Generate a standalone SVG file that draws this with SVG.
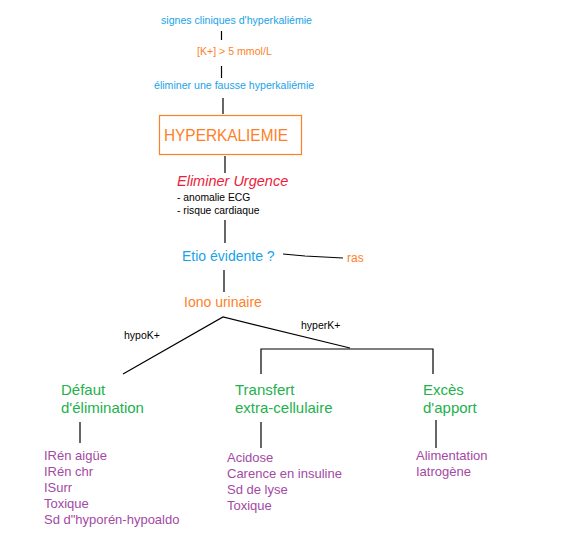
<svg xmlns="http://www.w3.org/2000/svg" width="583" height="540" viewBox="0 0 583 540">
<style>
text{font-family:"Liberation Sans",Arial,sans-serif}
.blue{fill:#1AA3E8}
.orange{fill:#FF7F27}
.green{fill:#22B14C;font-size:15px}
.purple{fill:#A349A4;font-size:13px}
.small{font-size:10.6px}
.tiny{font-size:10.3px}
.blk{fill:#000}
.ln{stroke:#000;stroke-width:1.2;fill:none}
</style>
<rect width="583" height="540" fill="#fff"/>
<g id="connectors">
<line class="ln" x1="221.5" y1="31" x2="221.5" y2="40"/>
<line class="ln" x1="221.5" y1="66" x2="221.5" y2="78"/>
<line class="ln" x1="223" y1="98" x2="223" y2="114"/>
<line class="ln" x1="225" y1="156" x2="225" y2="173"/>
<line class="ln" x1="225" y1="220" x2="225" y2="243"/>
<polyline class="ln" points="283,254 305,256 343,258"/>
<line class="ln" x1="224" y1="270" x2="224" y2="292"/>
<polyline class="ln" points="123,374 223,317 350,348"/>
<polyline class="ln" points="261,374 261,349 433,349 433,374"/>
<line class="ln" x1="80" y1="422" x2="80" y2="443"/>
<line class="ln" x1="261" y1="422" x2="261" y2="448"/>
<line class="ln" x1="436" y1="420" x2="436" y2="448"/>
</g>
<g id="signes"><text x="161" y="24" class="blue small">signes cliniques d'hyperkaliémie</text></g>
<g id="kplus"><text x="197" y="55" class="orange small">[K+] &gt; 5 mmol/L</text></g>
<g id="eliminer"><text x="154" y="89" class="blue small">éliminer une fausse hyperkaliémie</text></g>
<g id="hyperkaliemie">
<rect x="159.5" y="115.5" width="142" height="39" fill="none" stroke="#FF7F27" stroke-width="1.2"/>
<text x="164" y="141" class="orange" font-size="17" textLength="124" lengthAdjust="spacingAndGlyphs">HYPERKALIEMIE</text>
</g>
<g id="urgence">
<text x="177" y="186" fill="#ED1C3A" font-size="14.5" font-style="italic">Eliminer Urgence</text>
<text x="177" y="201" class="blk tiny">- anomalie ECG</text>
<text x="177" y="214" class="blk tiny">- risque cardiaque</text>
</g>
<g id="etio"><text x="182" y="261" class="blue" font-size="14">Etio évidente ?</text></g>
<g id="ras"><text x="347" y="262" class="orange" font-size="12">ras</text></g>
<g id="iono"><text x="184" y="307" class="orange" font-size="14">Iono urinaire</text></g>
<g id="hypok"><text x="124" y="339" class="blk" font-size="10.5">hypoK+</text></g>
<g id="hyperk"><text x="301" y="329" class="blk" font-size="10.5">hyperK+</text></g>
<g id="defaut">
<text x="61" y="395" class="green">Défaut</text>
<text x="61" y="413" class="green">d'élimination</text>
</g>
<g id="transfert">
<text x="235" y="395" class="green">Transfert</text>
<text x="235" y="413" class="green">extra-cellulaire</text>
</g>
<g id="exces">
<text x="423" y="395" class="green">Excès</text>
<text x="423" y="413" class="green">d'apport</text>
</g>
<g id="defaut-list">
<text x="44" y="460" class="purple">IRén aigüe</text>
<text x="44" y="476" class="purple">IRén chr</text>
<text x="44" y="492" class="purple">ISurr</text>
<text x="44" y="508" class="purple">Toxique</text>
<text x="44" y="524" class="purple">Sd d"hyporén-hypoaldo</text>
</g>
<g id="transfert-list">
<text x="227" y="462" class="purple">Acidose</text>
<text x="227" y="478" class="purple">Carence en insuline</text>
<text x="227" y="494" class="purple">Sd de lyse</text>
<text x="227" y="510" class="purple">Toxique</text>
</g>
<g id="exces-list">
<text x="416" y="460" class="purple">Alimentation</text>
<text x="416" y="476" class="purple">Iatrogène</text>
</g>
</svg>
